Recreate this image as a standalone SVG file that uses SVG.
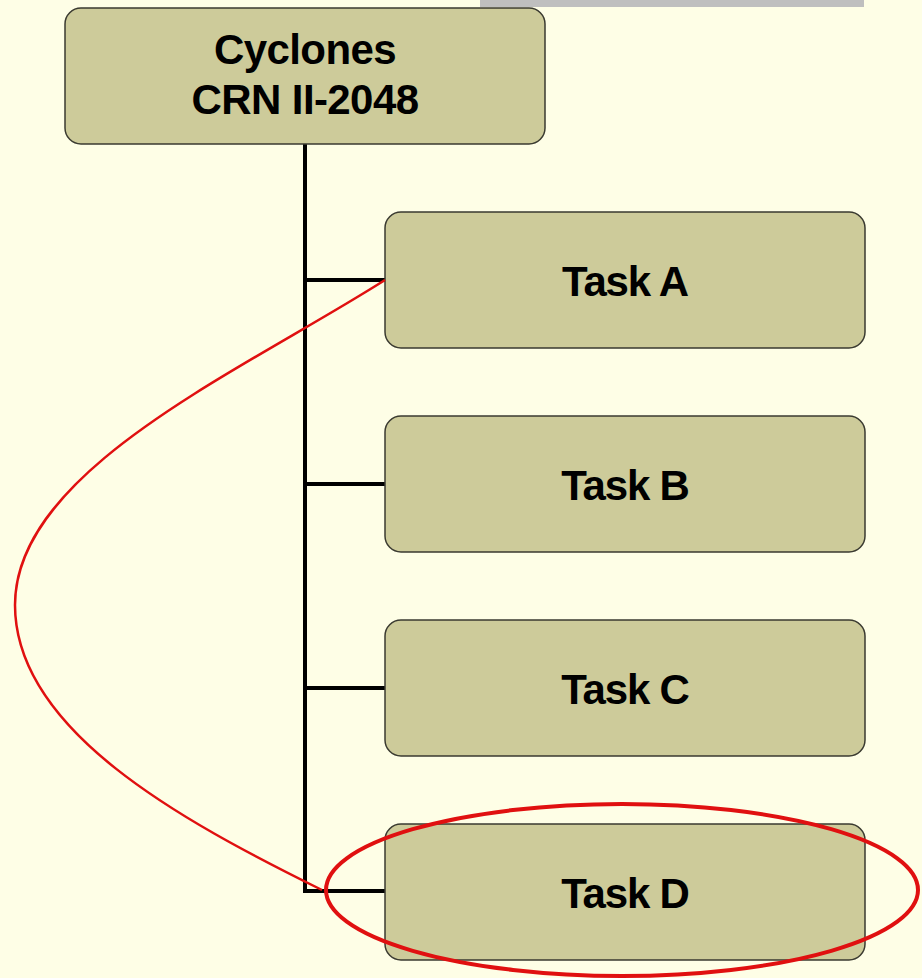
<svg xmlns="http://www.w3.org/2000/svg" width="922" height="978" viewBox="0 0 922 978">
<style>
.node rect{fill:#cdcb9a;stroke:#3a3a30;stroke-width:1.5}
.node text{font-family:"Liberation Sans",Arial,sans-serif;font-weight:bold;fill:#000;text-anchor:middle}
.top text{font-size:42px;letter-spacing:-0.6px}
.task text{font-size:42px;letter-spacing:-1.2px}
.conn line{stroke:#000;stroke-width:4;stroke-linecap:square}
.mark{fill:none;stroke:#e01010}
</style>
<rect x="0" y="0" width="922" height="978" fill="#fefee6"/>
<rect x="480" y="0" width="384" height="7" fill="#bfbfbf"/>
<g id="connectors" class="conn">
<line x1="305" y1="144" x2="305" y2="891"/>
<line x1="305" y1="280" x2="385" y2="280"/>
<line x1="305" y1="484" x2="385" y2="484"/>
<line x1="305" y1="688" x2="385" y2="688"/>
<line x1="305" y1="891" x2="385" y2="891"/>
</g>
<g id="root" class="node top">
<rect x="65" y="8" width="480" height="136" rx="16"/>
<text x="305" y="64">Cyclones</text>
<text x="305" y="114">CRN II-2048</text>
</g>
<g id="taskA" class="node task">
<rect x="385" y="212" width="480" height="136" rx="16"/>
<text x="625" y="296">Task A</text>
</g>
<g id="taskB" class="node task">
<rect x="385" y="416" width="480" height="136" rx="16"/>
<text x="625" y="500">Task B</text>
</g>
<g id="taskC" class="node task">
<rect x="385" y="620" width="480" height="136" rx="16"/>
<text x="625" y="704">Task C</text>
</g>
<g id="taskD" class="node task">
<rect x="385" y="824" width="480" height="136" rx="16"/>
<text x="625" y="908">Task D</text>
</g>
<g id="annotations">
<path class="mark" stroke-width="2.5" d="M385,280 C240,372 15,470 15,605 C15,730 180,820 322,890"/>
<ellipse class="mark" stroke-width="4" cx="622" cy="890" rx="296" ry="86"/>
</g>
</svg>
